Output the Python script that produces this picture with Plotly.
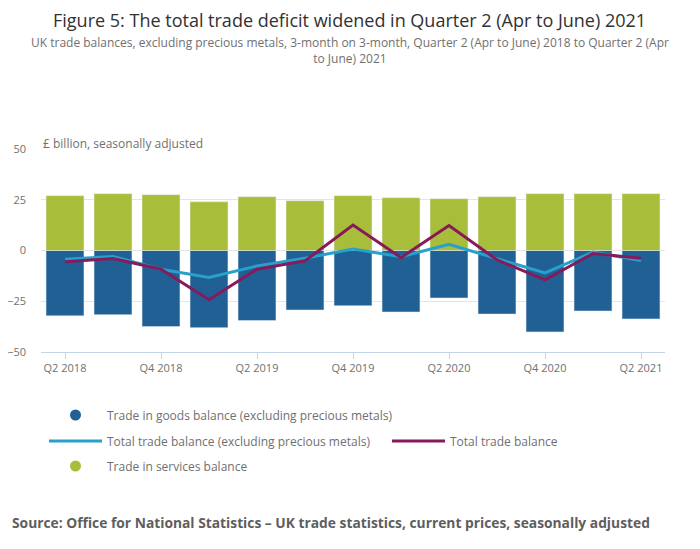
import plotly.graph_objects as go

quarters = ['Q2 2018', 'Q3 2018', 'Q4 2018', 'Q1 2019', 'Q2 2019', 'Q3 2019', 'Q4 2019',
            'Q1 2020', 'Q2 2020', 'Q3 2020', 'Q4 2020', 'Q1 2021', 'Q2 2021']
goods_balance = [-32.2, -31.6, -37.5, -38.0, -34.5, -29.3, -27.2, -30.3, -23.4, -31.3, -40.1, -29.8, -33.7]
services_balance = [27.0, 28.0, 27.5, 24.0, 26.5, 24.5, 27.0, 26.0, 25.5, 26.5, 28.0, 28.0, 28.0]
total_excl_pm = [-4.3, -3.0, -9.2, -13.3, -7.6, -3.8, 0.7, -3.1, 3.0, -3.9, -11.0, -0.8, -4.9]
total_balance = [-5.6, -3.9, -9.2, -24.3, -9.2, -5.1, 12.5, -3.5, 12.3, -4.6, -14.5, -1.5, -3.8]
tick_labels = ['Q2 2018', 'Q4 2018', 'Q2 2019', 'Q4 2019', 'Q2 2020', 'Q4 2020', 'Q2 2021']

navy = '#206095'
green = '#a8bd3a'
sky = '#27a0cc'
plum = '#871a5b'
grey_txt = '#707070'

# the page body has an 8px margin, so the figure is 8px smaller than the window
W, H = 692, 541

fig = go.Figure()
fig.add_trace(go.Bar(x=quarters, y=goods_balance, marker_color=navy, showlegend=False,
                     name='Trade in goods balance (excluding precious metals)'))
fig.add_trace(go.Bar(x=quarters, y=services_balance, marker_color=green, showlegend=False,
                     name='Trade in services balance'))
fig.add_trace(go.Scatter(x=quarters, y=total_excl_pm, mode='lines', line=dict(color=sky, width=3),
                         name='Total trade balance (excluding precious metals)', legend='legend2'))
fig.add_trace(go.Scatter(x=quarters, y=total_balance, mode='lines', line=dict(color=plum, width=3),
                         name='Total trade balance', legend='legend4'))
# legend-only entries so the bars show up as dots like the original
fig.add_trace(go.Scatter(x=[None], y=[None], mode='markers', marker=dict(color=navy, size=11),
                         name='Trade in goods balance (excluding precious metals)', legend='legend'))
fig.add_trace(go.Scatter(x=[None], y=[None], mode='markers', marker=dict(color=green, size=11),
                         name='Trade in services balance', legend='legend3'))

legend_font = dict(family='Open Sans', size=12, color=grey_txt)


def leg(xpx, ypx):
    return dict(xref='container', yref='container', x=xpx / W, xanchor='left', y=1 - ypx / H,
                yanchor='middle', itemwidth=53, font=legend_font, bgcolor='rgba(0,0,0,0)')


fig.update_layout(
    width=W, height=H,
    barmode='relative', bargap=0.21,
    plot_bgcolor='white', paper_bgcolor='white',
    font=dict(family='Open Sans', color=grey_txt, size=12),
    margin=dict(l=33, r=35, t=141, b=197, autoexpand=False),
    xaxis=dict(type='category', tickvals=tick_labels, ticktext=tick_labels, showgrid=False,
               showline=True, linecolor='#c6d4ea', linewidth=1, ticks='outside', ticklen=6,
               tickcolor='#c6d4ea', tickfont=dict(size=11, color=grey_txt)),
    yaxis=dict(range=[-50, 50], tickvals=[-50, -25, 0, 25, 50], gridcolor='#e4e4e4',
               zeroline=False, tickfont=dict(size=11, color=grey_txt), ticklabelstandoff=14),
    legend=leg(36, 407),
    legend2=leg(36, 433),
    legend4=leg(379, 433),
    legend3=leg(36, 458),
    annotations=[
        dict(text='Figure 5: The total trade deficit widened in Quarter 2 (Apr to June) 2021',
             xref='paper', yref='paper', x=(341 - 33) / 624, xanchor='center', y=1 + (141 - 11.5) / 203,
             yanchor='middle', showarrow=False, font=dict(family='Open Sans', size=18, color='#323132')),
        dict(text='UK trade balances, excluding precious metals, 3-month on 3-month, Quarter 2 (Apr to June) 2018 to Quarter 2 (Apr<br>to June) 2021',
             xref='paper', yref='paper', x=(342 - 33) / 624, xanchor='center', y=1 + (141 - 43) / 203,
             yanchor='middle', showarrow=False, align='center',
             font=dict(family='Open Sans', size=12, color=grey_txt)),
        dict(text='£ billion, seasonally adjusted', xref='paper', yref='paper', x=0, xanchor='left',
             y=1 + 6 / 203, yanchor='middle', showarrow=False,
             font=dict(family='Open Sans', size=12, color=grey_txt)),
        dict(text='<b>Source: Office for National Statistics – UK trade statistics, current prices, seasonally adjusted</b>',
             xref='paper', yref='paper', x=-31 / 624, xanchor='left', y=-(514 - 344) / 203, yanchor='middle',
             showarrow=False, font=dict(family='Open Sans', size=13.8, color='#5e5e5e')),
    ],
)

fig.write_html("out.html")
